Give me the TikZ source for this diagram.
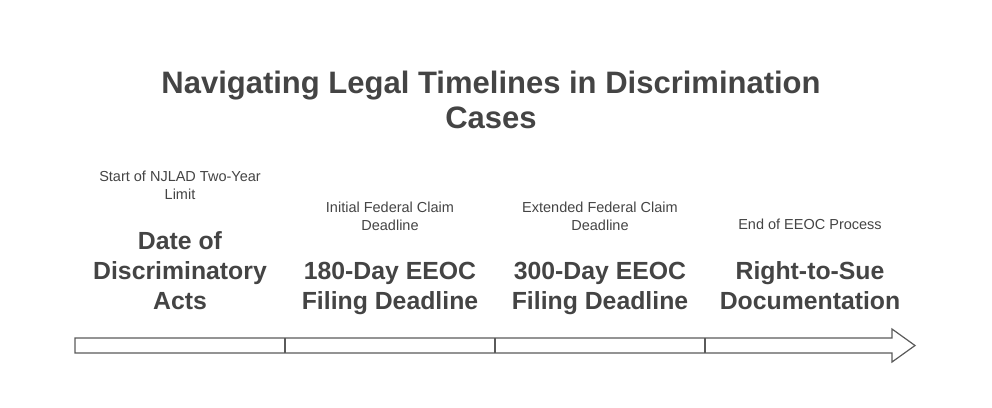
\documentclass[tikz,border=0pt]{standalone}
\usepackage{fontspec}
\setmainfont{Liberation Sans}
\usepackage{tikz}
\usetikzlibrary{positioning}
\definecolor{textgray}{HTML}{444444}
\definecolor{linegray}{HTML}{5A5A5A}
\tikzstyle{titleblock} = [text=textgray, align=center, inner sep=0pt,
font=\fontsize{31}{35}\selectfont\bfseries]
\tikzstyle{eventblock} = [text=textgray, align=center, inner sep=0pt,
anchor=base, font=\fontsize{24.8}{30}\selectfont\bfseries]
\tikzstyle{noteblock} = [text=textgray, align=center, inner sep=0pt,
font=\fontsize{14.5}{18}\selectfont]
\tikzstyle{bar} = [draw=linegray, line width=1.2pt, fill=white, line join=miter]

\begin{document}
\begin{tikzpicture}[x=1pt, y=-1pt, node distance=31pt]
    \useasboundingbox (0,0) rectangle (992,407);
    \node (title) [titleblock] at (491,100) {Navigating Legal Timelines in Discrimination\\Cases};

    % events along the timeline
    \node (acts) [eventblock] at (180,309) {Date of\\Discriminatory\\Acts};
    \node (first) [eventblock] at (390,309) {180-Day EEOC\\Filing Deadline};
    \node (second) [eventblock] at (600,309) {300-Day EEOC\\Filing Deadline};
    \node (sue) [eventblock] at (810,309) {Right-to-Sue\\Documentation};

    \node (actsnote) [noteblock, above=of acts] {Start of NJLAD Two-Year\\Limit};
    \node (firstnote) [noteblock, above=of first] {Initial Federal Claim\\Deadline};
    \node (secondnote) [noteblock, above=of second] {Extended Federal Claim\\Deadline};
    \node (suenote) [noteblock, above=of sue] {End of EEOC Process};

    % timeline arrow
    \draw [bar] (75,338) -- (892,338) -- (892,329) -- (915,345.5) -- (892,362)
        -- (892,353) -- (75,353) -- cycle;
    \foreach \x in {285,495,705}
        \draw [bar] (\x,338) -- (\x,353);
\end{tikzpicture}
\end{document}
